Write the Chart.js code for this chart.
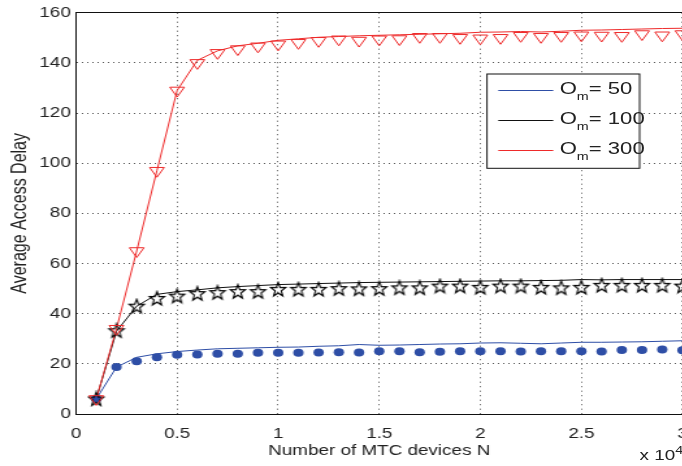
<!DOCTYPE html>
<html lang="en">
<head>
  <meta charset="UTF-8">
  <title>Average Access Delay</title>
  <script src="https://cdn.jsdelivr.net/npm/chart.js"></script>
  <style>
    body {
      margin: 0;
      background: #fff;
      overflow: hidden;
      font-family: "Liberation Sans", Arial, sans-serif;
    }
    /* the reference is stretched horizontally, so draw narrow and stretch */
    #wrap {
      position: absolute;
      left: 0;
      top: 0;
      width: 540px;
      height: 466px;
      transform: scaleX(1.3);
      transform-origin: 0 0;
    }
    .tx {
      position: absolute;
      left: 430.5px;
      font-size: 17px;
      line-height: 20px;
      color: #222;
      white-space: nowrap;
    }
    .tx sub {
      font-size: 11px;
      vertical-align: -6px;
      line-height: 0;
    }
    #exp {
      position: absolute;
      left: 492px;
      top: 447px;
      font-size: 14.5px;
      color: #222;
      white-space: nowrap;
    }
    #exp sup {
      font-size: 11px;
      vertical-align: 6px;
      line-height: 0;
    }
  </style>
</head>
<body>

<div id="wrap">
  <canvas id="grafico" width="540" height="466"></canvas>
  <div class="tx" style="top:79px">O<sub>m</sub>= 50</div>
  <div class="tx" style="top:109px">O<sub>m</sub>= 100</div>
  <div class="tx" style="top:139px">O<sub>m</sub>= 300</div>
  <div id="exp">x 10<sup>4</sup></div>
</div>

<script>
  // N in units of 10^4
  const nValues = [0.1, 0.2, 0.3, 0.4, 0.5, 0.6, 0.7, 0.8, 0.9, 1.0,
                   1.1, 1.2, 1.3, 1.4, 1.5, 1.6, 1.7, 1.8, 1.9, 2.0,
                   2.1, 2.2, 2.3, 2.4, 2.5, 2.6, 2.7, 2.8, 2.9, 3.0];

  // O_m = 50
  const line50 = [6, 18.7, 22.6, 24, 24.9, 25.5, 26, 26.2, 26.4, 26.6,
                  26.7, 27, 27.2, 27.7, 27.4, 27.5, 27.7, 27.9, 28, 28.3,
                  28.4, 28.2, 28, 28.3, 28.6, 28.6, 28.7, 28.8, 29, 29.2];
  const sim50 = [6, 18.7, 21, 22.6, 23.6, 23.7, 24, 24, 24.4, 24.4,
                 24.4, 24.5, 24.6, 24.5, 25, 25, 24.6, 24.8, 25, 25,
                 25, 24.9, 25, 25, 25, 24.9, 25.5, 25.5, 25.7, 25.4];

  // O_m = 100
  const line100 = [6, 33, 43, 47.7, 48.8, 49.5, 50.3, 50.8, 51.2, 51.6,
                   51.8, 52, 52.2, 52.4, 52.5, 52.6, 52.7, 52.8, 52.9, 53,
                   53.1, 53.1, 53.2, 53.3, 53.6, 53.5, 53.6, 53.6, 53.6, 53.6];
  const sim100 = [6, 33.2, 43, 46.1, 47, 48, 48.4, 48.8, 48.8, 49.7,
                  49.7, 49.7, 50, 49.9, 50, 50.3, 50.3, 51, 51, 50.5,
                  51, 51, 50.5, 50.3, 50.5, 51.3, 51.3, 51.3, 51.3, 51];

  // O_m = 300
  const line300 = [6, 34, 65, 97, 129, 141, 144.8, 146.8, 147.8, 149,
                   149.6, 150.2, 150.5, 150.8, 151, 151.2, 151.4, 151.6, 151.8, 152.2,
                   152.3, 152.5, 152.3, 152.6, 153, 153.1, 153.3, 153.5, 153.7, 153.8];
  const sim300 = [6, 34, 65, 97, 129, 140, 144, 145.5, 146.6, 147.4,
                  148, 148.8, 149.4, 148.9, 149.4, 149.5, 150.4, 150.4, 150, 149.8,
                  150, 150.8, 150.4, 150.8, 151, 150.9, 150.8, 151.5, 151, 151.5];

  const xTicks = [0, 0.5, 1, 1.5, 2, 2.5, 3];
  const yTicks = [0, 20, 40, 60, 80, 100, 120, 140, 160];

  const AZUL = "#2e4ea6";
  const PRETO = "#111111";
  const VERMELHO = "#ee2a2a";

  function pares(valores) {
    return nValues.map((x, i) => ({ x: x, y: valores[i] }));
  }

  // hollow five-pointed star, like matlab's pentagram marker
  function criarEstrela() {
    const c = document.createElement("canvas");
    c.width = 16;
    c.height = 17;
    const ctx = c.getContext("2d");
    ctx.translate(8, 9);
    ctx.scale(0.8, 1);
    ctx.beginPath();
    for (let k = 0; k < 10; k++) {
      const r = k % 2 === 0 ? 7.5 : 3.1;
      const a = -Math.PI / 2 + k * Math.PI / 5;
      ctx.lineTo(Math.cos(a) * r, Math.sin(a) * r);
    }
    ctx.closePath();
    ctx.lineWidth = 1.3;
    ctx.strokeStyle = "#000";
    ctx.stroke();
    return c;
  }

  const estrela = criarEstrela();

  function linha(label, dados, cor) {
    return {
      label,
      data: pares(dados),
      borderColor: cor,
      borderWidth: 1,
      pointRadius: 0,
      showLine: true,
      tension: 0
    };
  }

  // legend box (white, framed) with the three line samples; the text is html on top
  const caixaLegenda = {
    id: "caixaLegenda",
    afterDatasetsDraw(chart) {
      const ctx = chart.ctx;
      ctx.save();
      ctx.fillStyle = "#fff";
      ctx.fillRect(374.6, 74, 117.4, 94.3);
      ctx.strokeStyle = PRETO;
      ctx.lineWidth = 1;
      ctx.strokeRect(374.6, 74, 117.4, 94.3);
      const cores = [AZUL, PRETO, VERMELHO];
      cores.forEach((cor, i) => {
        const y = 90.5 + i * 30;
        ctx.beginPath();
        ctx.moveTo(383.3, y);
        ctx.lineTo(425.6, y);
        ctx.strokeStyle = cor;
        ctx.stroke();
      });
      ctx.restore();
    }
  };

  const fonteTicks = { family: "'Liberation Sans', Arial, sans-serif", size: 14.5 };

  new Chart(document.getElementById("grafico"), {
    type: "scatter",
    data: {
      datasets: [
        {
          label: "sim 300",
          data: pares(sim300),
          showLine: false,
          pointStyle: "triangle",
          rotation: 180,
          pointRadius: 6.5,
          borderWidth: 1,
          borderColor: VERMELHO,
          backgroundColor: "rgba(0,0,0,0)"
        },
        {
          label: "sim 100",
          data: pares(sim100),
          showLine: false,
          pointStyle: estrela,
          pointRadius: 7
        },
        {
          label: "sim 50",
          data: pares(sim50),
          showLine: false,
          pointStyle: "circle",
          pointRadius: 4,
          borderWidth: 0,
          backgroundColor: AZUL
        },
        linha("O_m = 300", line300, VERMELHO),
        linha("O_m = 100", line100, PRETO),
        linha("O_m = 50", line50, AZUL)
      ]
    },
    plugins: [caixaLegenda],
    options: {
      responsive: false,
      animation: false,
      layout: { padding: { top: 9, right: 14.6, bottom: 0, left: 0 } },
      plugins: {
        legend: { display: false },
        tooltip: { enabled: false }
      },
      scales: {
        x: {
          type: "linear",
          min: 0,
          max: 3,
          afterBuildTicks: (s) => { s.ticks = xTicks.map(v => ({ value: v })); },
          afterFit: (s) => { s.height = 52; },
          ticks: {
            color: "#222",
            font: fonteTicks,
            padding: 11,
            maxRotation: 0,
            callback: (v) => String(v)
          },
          grid: { color: "#555", lineWidth: 1, drawTicks: false },
          border: { color: PRETO, width: 1, dash: [1, 3.5] },
          title: {
            display: true,
            text: "Number of MTC devices N",
            color: "#222",
            font: fonteTicks,
            padding: { top: 0, bottom: 6 }
          }
        },
        x2: {
          type: "linear",
          position: "top",
          min: 0,
          max: 3,
          afterFit: (s) => { s.height = 0; },
          ticks: { display: false },
          grid: { display: false, drawTicks: false },
          border: { display: true, color: PRETO, width: 1 }
        },
        y: {
          min: 0,
          max: 160,
          afterBuildTicks: (s) => { s.ticks = yTicks.map(v => ({ value: v })); },
          afterFit: (s) => { s.width = 58.5; },
          ticks: {
            color: "#222",
            font: fonteTicks,
            padding: 4
          },
          grid: { color: "#555", lineWidth: 1, drawTicks: false },
          border: { color: PRETO, width: 1, dash: [1, 3] },
          title: {
            display: true,
            text: "Average Access Delay",
            color: "#222",
            font: { family: "'Liberation Sans', Arial, sans-serif", size: 16 },
            padding: { top: 6, bottom: 0 }
          }
        }
      }
    }
  });
</script>

</body>
</html>
